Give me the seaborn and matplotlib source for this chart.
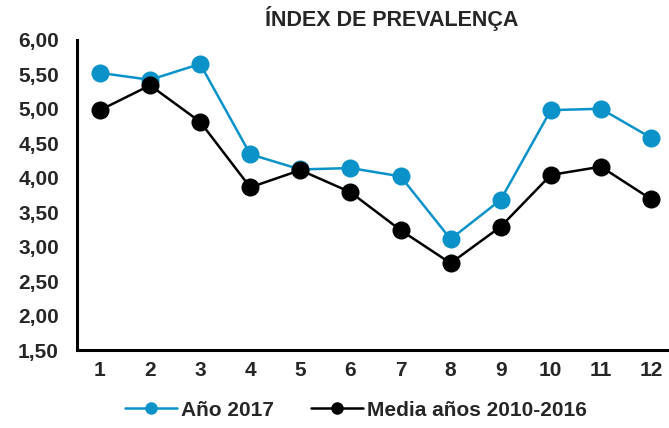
import matplotlib
matplotlib.use("Agg")
import matplotlib.pyplot as plt
import seaborn as sns
import pandas as pd
from matplotlib.ticker import FuncFormatter, MultipleLocator

months = [1, 2, 3, 4, 5, 6, 7, 8, 9, 10, 11, 12]
ano_2017 = [5.52, 5.42, 5.65, 4.34, 4.12, 4.14, 4.02, 3.11, 3.68, 4.98, 5.00, 4.58]
media_2010_2016 = [4.98, 5.34, 4.81, 3.86, 4.11, 3.79, 3.24, 2.76, 3.29, 4.04, 4.16, 3.69]
series_names = ["Año 2017", "Media años 2010-2016"]
colors = ["#0A92C9", "#000000"]

df = pd.concat([
    pd.DataFrame({"mes": months, "valor": ano_2017, "serie": series_names[0]}),
    pd.DataFrame({"mes": months, "valor": media_2010_2016, "serie": series_names[1]}),
])

sns.set_theme(style="white")
plt.rcParams["font.family"] = ["Liberation Sans", "DejaVu Sans"]

fig = plt.figure(figsize=(6.69, 4.28), dpi=100)
ax = fig.add_axes([0.115, 0.182, 0.885, 0.725])

sns.lineplot(data=df, x="mes", y="valor", hue="serie", palette=colors,
             marker="o", markersize=13, markeredgewidth=0, linewidth=1.8,
             ax=ax, legend=True)

ax.set_xlim(0.54, 12.36)
ax.set_ylim(1.5, 6.0)
ax.yaxis.set_major_locator(MultipleLocator(0.5))
ax.set_xticks(months)
ax.yaxis.set_major_formatter(FuncFormatter(lambda v, p: f"{v:.2f}".replace(".", ",")))
for lab in ax.get_xticklabels() + ax.get_yticklabels():
    lab.set_fontweight("bold")
    lab.set_fontsize(15)
ax.tick_params(axis="y", length=0, pad=13)
ax.tick_params(axis="x", length=0, pad=8)
ax.set_xlabel("")
ax.set_ylabel("")
for s in ["top", "right"]:
    ax.spines[s].set_visible(False)
for s in ["left", "bottom"]:
    ax.spines[s].set_color("black")
    ax.spines[s].set_linewidth(2.2)

fig.text(0.585, 0.956, "ÍNDEX DE PREVALENÇA", ha="center", va="center",
         fontsize=15.5, fontweight="bold")

handles, labels = ax.get_legend_handles_labels()
ax.get_legend().remove()
for h in handles:
    h.set_markersize(9)
leg = fig.legend(handles, labels, loc="center", bbox_to_anchor=(0.532, 0.042),
                 ncol=2, frameon=False, prop={"weight": "bold", "size": 15},
                 handlelength=2.5, columnspacing=1.8, handletextpad=0.2)

fig.savefig("out.png", dpi=100)
